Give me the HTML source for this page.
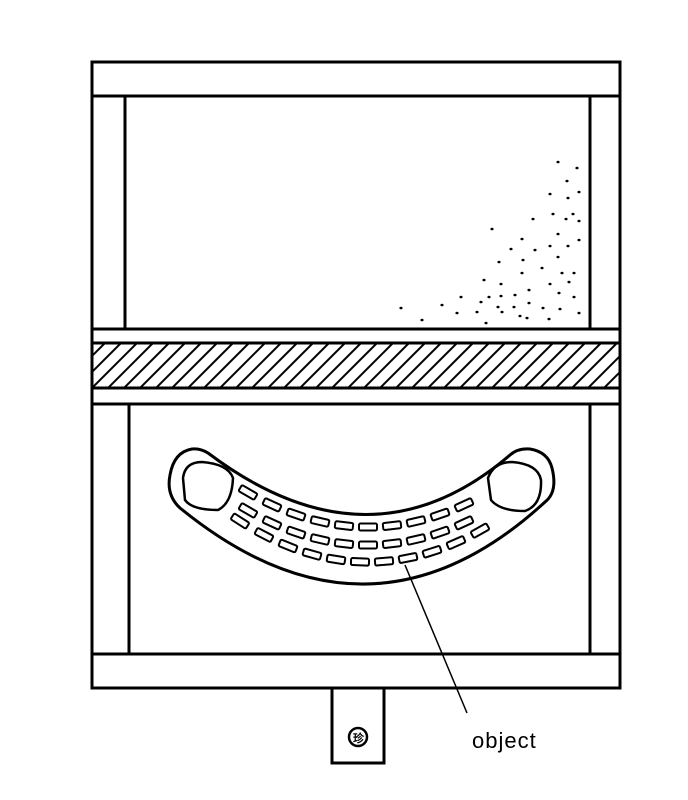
<!DOCTYPE html>
<html><head><meta charset="utf-8"><style>
html,body{margin:0;padding:0;background:#fff;width:688px;height:800px;overflow:hidden}
svg{display:block}
</style></head><body>
<svg id="s" width="688" height="800" viewBox="0 0 688 800" xmlns="http://www.w3.org/2000/svg">
<defs>
<clipPath id="band"><rect x="92" y="343" width="528" height="45"/></clipPath>
</defs>
<g fill="none" stroke="#000" stroke-width="3">
<rect x="92" y="62" width="528" height="626"/>
<line x1="92" y1="96" x2="620" y2="96"/>
<line x1="125" y1="96" x2="125" y2="329"/>
<line x1="590" y1="96" x2="590" y2="329"/>
<line x1="92" y1="329" x2="620" y2="329"/>
<line x1="92" y1="343" x2="620" y2="343"/>
<line x1="92" y1="388" x2="620" y2="388"/>
<line x1="92" y1="404" x2="620" y2="404"/>
<line x1="129" y1="404" x2="129" y2="654"/>
<line x1="590" y1="404" x2="590" y2="654"/>
<line x1="92" y1="654" x2="620" y2="654"/>
<rect x="332" y="688" width="52" height="75"/>
</g>
<g id="hatch" clip-path="url(#band)" stroke="#000" stroke-width="2"></g>
<g id="dots" fill="#000"></g>
<g fill="none" stroke="#000" stroke-width="3">
<path d="M170,475 Q174,452 192,449 Q200,448 208,453 Q370,575 510,455 Q518,448 530,449 Q548,452 552,468 Q558,492 545,502 Q370,663 180,508 Q166,495 170,475 Z"/>
<path d="M183,478 Q185,462 202,462 Q228,464 233,478 Q232,503 218,510 Q192,510 185,500 Z" stroke-width="2.5"/>
<path d="M488,478 Q494,462 512,462 Q538,464 541,480 Q542,505 525,511 Q500,511 491,500 Z" stroke-width="2.5"/>
</g>
<g id="slots" fill="none" stroke="#000" stroke-width="2"></g>
<line x1="405" y1="565" x2="467" y2="713" stroke="#000" stroke-width="1.5"/>
<circle cx="358" cy="737" r="9" fill="none" stroke="#000" stroke-width="2.5"/>
<text x="353" y="742" font-family="Liberation Sans, sans-serif" font-size="11" font-weight="bold">珍</text>
<text x="472" y="748" font-family="Liberation Sans, sans-serif" font-size="22" fill="#000" letter-spacing="1">object</text>
</svg>
<script>
var ns="http://www.w3.org/2000/svg";
var h=document.getElementById('hatch');
for(var x=60;x<660;x+=16){var l=document.createElementNS(ns,'line');l.setAttribute('x1',x);l.setAttribute('y1',388);l.setAttribute('x2',x+45);l.setAttribute('y2',343);h.appendChild(l);}
var d=[[558,162],[577,168],[567,181],[579,192],[550,194],[568,198],[553,214],[573,214],[566,219],[579,221],[533,219],[492,229],[558,234],[522,239],[579,240],[550,246],[568,246],[511,249],[535,250],[523,260],[558,257],[499,262],[542,268],[522,273],[562,273],[574,273],[484,280],[501,284],[550,284],[569,282],[529,290],[559,293],[461,297],[489,297],[501,296],[515,295],[574,297],[481,302],[442,305],[498,307],[514,307],[529,303],[543,308],[560,309],[401,308],[457,313],[477,312],[502,312],[520,316],[527,318],[579,313],[422,320],[549,319],[486,323]];
var g=document.getElementById('dots');
d.forEach(function(p){var c=document.createElementNS(ns,'ellipse');c.setAttribute('cx',p[0]);c.setAttribute('cy',p[1]);c.setAttribute('rx',1.6);c.setAttribute('ry',1.3);g.appendChild(c);});
var s=document.getElementById('slots');
var rows=[[527,248,478,0.0024],[545,240,486,0.0024],[562,240,490,0.0025]];
rows.forEach(function(r,i){for(var x=r[1]+(i%2)*8;x<=r[2];x+=24){var dx=x-368;var y=r[0]-r[3]*dx*dx;var ang=Math.atan(-2*r[3]*dx)*180/Math.PI;var e=document.createElementNS(ns,'rect');e.setAttribute('x',-9);e.setAttribute('y',-3.5);e.setAttribute('width',18);e.setAttribute('height',7);e.setAttribute('rx',1.5);e.setAttribute('transform','translate('+x+','+y+') rotate('+ang+')');s.appendChild(e);}});
</script>
</body></html>
